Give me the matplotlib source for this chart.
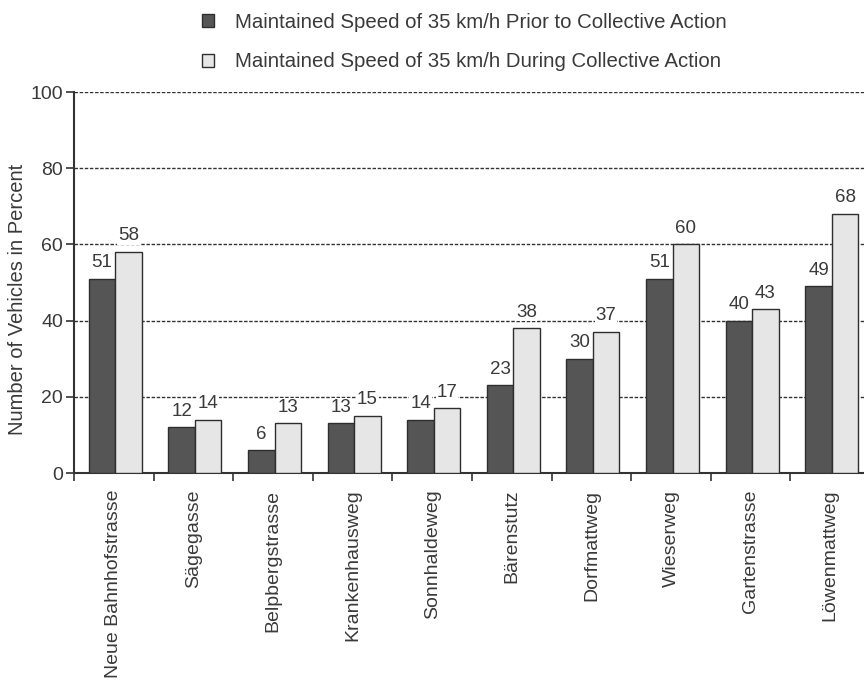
import matplotlib
matplotlib.use("Agg")
import matplotlib.pyplot as plt
import numpy as np
from matplotlib.patches import Patch

plt.rcParams['font.family'] = ['Liberation Sans', 'DejaVu Sans']

streets = ["Neue Bahnhofstrasse", "Sägegasse", "Belpbergstrasse", "Krankenhausweg",
           "Sonnhaldeweg", "Bärenstutz", "Dorfmattweg", "Wieserweg",
           "Gartenstrasse", "Löwenmattweg"]
prior = [51, 12, 6, 13, 14, 23, 30, 51, 40, 49]
during = [58, 14, 13, 15, 17, 38, 37, 60, 43, 68]
legend_labels = ["Maintained Speed of 35 km/h Prior to Collective Action",
                 "Maintained Speed of 35 km/h During Collective Action"]
yticks = [0, 20, 40, 60, 80, 100]

dark = "#555555"
light = "#e6e6e6"
edge = "#2e2e2e"
text_c = "#3a3a3a"

fig = plt.figure(figsize=(8.64, 6.86), dpi=100)
ax = fig.add_axes([74 / 864, (686 - 473) / 686, 796 / 864, (473 - 92) / 686])

x = np.arange(len(streets))
w = 0.333
b1 = ax.bar(x + 0.5 - w / 2 + 0.02, prior, w, color=dark, edgecolor=edge, linewidth=1.0, zorder=3)
b2 = ax.bar(x + 0.5 + w / 2 + 0.02, during, w, color=light, edgecolor=edge, linewidth=1.0, zorder=3)

for bars in (b1, b2):
    for rect in bars:
        h = rect.get_height()
        ax.text(rect.get_x() + rect.get_width() / 2, h + 2.0, f"{h:g}",
                ha="center", va="bottom", fontsize=13.5, color=text_c, zorder=4,
                bbox=dict(facecolor="white", edgecolor="none", pad=0.5))

ax.set_xlim(0, len(streets))
ax.set_ylim(0, 100)
ax.set_yticks(yticks)
ax.set_yticklabels([str(t) for t in yticks], fontsize=14, color=text_c)
for t in yticks[1:]:
    ax.axhline(t, color="#333333", linestyle=(0, (2.5, 1.2)), linewidth=1.0, zorder=1)

ax.set_xticks(x + 0.5)
ax.set_xticklabels(streets, rotation=90, fontsize=14, color=text_c, va="top")
ax.tick_params(axis="x", which="major", length=0, pad=12)
ax.set_xticks(np.arange(len(streets) + 1), minor=True)
ax.tick_params(axis="x", which="minor", length=6, width=1.2, direction="out", color="#333333")
ax.tick_params(axis="y", length=6, width=1.2, direction="out", color="#333333", pad=2)

for s in ("top", "right"):
    ax.spines[s].set_visible(False)
for s in ("left", "bottom"):
    ax.spines[s].set_color("#333333")
    ax.spines[s].set_linewidth(1.5)

ax.set_ylabel("Number of Vehicles in Percent", fontsize=14.5, color=text_c, va="center")
ax.yaxis.set_label_coords(-(74 - 18) / 796, 0.455)

handles = [Patch(facecolor=dark, edgecolor=edge, linewidth=1.0),
           Patch(facecolor=light, edgecolor=edge, linewidth=1.0)]
fig.legend(handles, legend_labels, loc="upper left", bbox_to_anchor=(0.212, 1.008),
           frameon=False, fontsize=14.7, labelspacing=1.0, handlelength=0.6,
           handleheight=0.6, handletextpad=1.05, labelcolor=text_c)

fig.savefig("out.png", dpi=100)
